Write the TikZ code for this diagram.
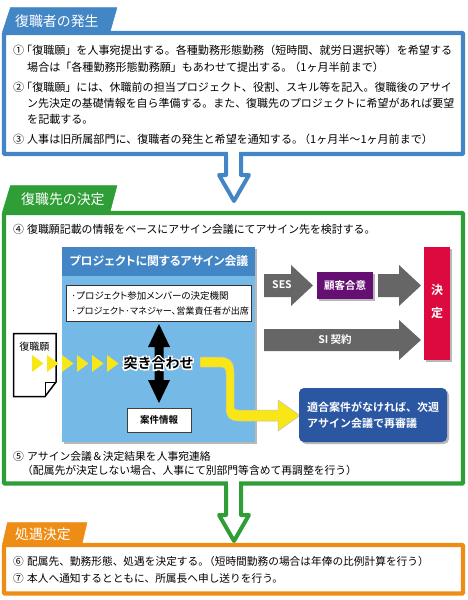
\documentclass[tikz,border=0pt]{standalone}
\usepackage{fontspec}
\setmainfont{Noto Sans CJK JP}
\newfontfamily\jpbold{Noto Sans CJK JP Bold}
\newfontfamily\jpboldp[RawFeature=+palt]{Noto Sans CJK JP Bold}
\newfontfamily\jpregp[RawFeature=+palt]{Noto Sans CJK JP}
\newfontfamily\jphalo[FakeBold=20]{Noto Sans CJK JP Bold}
\newcommand{\numbox}[1]{\makebox[14pt][l]{#1}}
\usetikzlibrary{shadows}
\definecolor{cblue}{HTML}{4386C5}
\definecolor{cgreen}{HTML}{2F9E36}
\definecolor{corange}{HTML}{EE8D16}
\definecolor{csky}{HTML}{75B9E6}
\definecolor{cgray}{HTML}{666666}
\definecolor{cpurple}{HTML}{660F73}
\definecolor{cred}{HTML}{DC0A3F}
\definecolor{cnavy}{HTML}{2A56A2}
\definecolor{cyellow}{HTML}{F9E616}
\tikzset{
 x=1pt,y=-1pt,
 body/.style={anchor=base west,inner sep=0pt,font=\fontsize{11.05}{13}\selectfont,text=black},
 bodytight/.style={anchor=base west,inner sep=0pt,font=\fontsize{10.8}{13}\selectfont,text=black},
 panel/.style={draw=#1,line width=4.2pt,fill=white,rounded corners=0.8pt},
 tabshape/.style={fill=#1,draw=#1,line width=0.5pt,line join=round},
 tabtext/.style={anchor=base west,inner sep=0pt,text=white,font=\fontsize{13.9}{16}\selectfont},
 flow/.style={draw=#1,line width=4pt,fill=white,line join=round},
 softshadow/.style={drop shadow={shadow xshift=2pt,shadow yshift=-2pt,fill=black,opacity=.28}},
 greyarrow/.style={fill=cgray},
 onarrow/.style={inner sep=0pt,text=white,font=\jpbold\fontsize{10.5}{12}\selectfont},
 tri/.style={fill=cyellow},
 boxline/.style={anchor=base west,inner sep=0pt,font=\jpregp\fontsize{#1}{11}\selectfont,text=black},
}
\begin{document}
\begin{tikzpicture}
\useasboundingbox (0,0) rectangle (467,600);
% --- section 1
\fill[tabshape=cblue] (2.5,32) -- (10.5,7.5) -- (117,7.5) -- (110,32) -- cycle;
\node[tabtext] (t1) at (15,26) {復職者の発生};
\draw[panel=cblue] (4,33) rectangle (463,154);
\node[body] (pa) at (13,54) {\makebox[8pt][l]{①}「復職願」を人事宛提出する。各種勤務形態勤務（短時間、就労日選択等）を希望する};
\node[body] (pb) at (27,71) {場合は「各種勤務形態勤務願」もあわせて提出する。\kern-3pt（1ヶ月半前まで）};
\node[body] (pc) at (13,91) {\makebox[8pt][l]{②}「復職願」には、休職前の担当プロジェクト、役割、スキル等を記入。復職後のアサイ};
\node[bodytight,font=\fontsize{10.95}{13}\selectfont] (pd) at (27,107) {ン先決定の基礎情報を自ら準備する。また、復職先のプロジェクトに希望があれば要望};
\node[body] (pe) at (27,123) {を記載する。};
\node[body] (pf) at (13,143) {\numbox{③}人事は旧所属部門に、復職者の発生と希望を通知する。\kern-4pt（1ヶ月半〜1ヶ月前まで）};
% --- section 2
\fill[tabshape=cgreen] (2.5,212) -- (10.5,185.5) -- (117,185.5) -- (110,212) -- cycle;
\node[tabtext] (t2) at (21,204) {復職先の決定};
\draw[panel=cgreen] (4,213) rectangle (463,483.5);
\node[bodytight,font=\fontsize{10.9}{13}\selectfont] (p4) at (13,233) {\numbox{④}復職願記載の情報をベースにアサイン会議にてアサイン先を検討する。};
\node[bodytight] (p5a) at (13,460) {\numbox{⑤}アサイン会議＆決定結果を人事宛連絡};
\node[bodytight] (p5b) at (22,474) {（配属先が決定しない場合、人事にて別部門等含めて再調整を行う）};
% flow arrow 1 (over section 1 bottom)
\draw[flow=cblue] (226,152) -- (226,175) -- (219,175) -- (234,201) -- (249,175) -- (241,175) -- (241,152);
\fill[white] (228,150) rectangle (239,155);
% meeting panel
\fill[csky,softshadow] (62,247) rectangle (255,442);
\fill[cblue] (62,247) rectangle (255,276);
\node[inner sep=0pt,text=white,font=\jpboldp\fontsize{11.9}{14}\selectfont] (mt) at (159,261) {プロジェクトに関するアサイン会議};
\node[draw=black!80,line width=.8pt,fill=white,minimum width=185pt,minimum height=36pt,inner sep=0pt,anchor=north west] (mb) at (66,285) {};
\node[boxline=9.5] (mb1) at (71,299.5) {·プロジェクト参加メンバーの決定機関};
\node[boxline=9.1] (mb2) at (71,314) {·プロジェクト·マネジャー、営業責任者が出席};
\node[draw=black!75,line width=.8pt,fill=white,minimum width=64pt,minimum height=24pt,inner sep=0pt,font=\jpbold\fontsize{9.5}{11}\selectfont] (case) at (159,420) {案件情報};
% double arrow
\fill[black] (159,324) -- (170,347) -- (163.5,347) -- (163.5,380) -- (170,380) -- (159,403) -- (148,380) -- (154.5,380) -- (154.5,347) -- (148,347) -- cycle;
% document
\draw[black,line width=1.5pt,fill=white,line join=miter] (13.5,333.5) -- (56,333.5) -- (56,382) -- (45,396.5) -- (13.5,396.5) -- cycle;
\draw[black,line width=1pt,line join=miter] (56,382) -- (45,382) -- (45,396.5);
\node[inner sep=0pt,font=\fontsize{10}{12}\selectfont] (doc) at (34.5,346.5) {復職願};
% yellow triangles
\foreach \a in {32,47,62,77,92,107}
 {\fill[tri] (\a,355) -- (\a+11.5,363.5) -- (\a,372) -- cycle;}
% yellow bent arrow
\filldraw[fill=cyellow,draw=black!25,line width=.5pt,line join=miter] (200,357) -- (220,357) .. controls (229,357) and (234,362) .. (234,371) -- (234,405) .. controls (234,409) and (235,410) .. (239,410) -- (278,410) -- (278,400) -- (300,415.5) -- (278,431) -- (278,421) -- (238,421) .. controls (230,421) and (226,417) .. (226,409) -- (226,373) .. controls (226,369) and (224,367) .. (220,367) -- (200,367) -- cycle;
% clash label
\node[inner sep=0pt,font=\jpbold\fontsize{14}{16}\selectfont] (clash) at (158.5,363) {\rlap{\color{white}\jphalo 突き合わせ}突き合わせ};
% next-week box
\node[fill=cnavy,rounded corners=5pt,minimum width=148pt,minimum height=54pt,inner sep=0pt,softshadow] (nx) at (373,415) {};
\node[anchor=base west,inner sep=0pt,text=white,font=\jpbold\fontsize{11}{13}\selectfont] (nx1) at (307,411) {適合案件がなければ、次週};
\node[anchor=base west,inner sep=0pt,text=white,font=\jpbold\fontsize{11}{13}\selectfont] (nx2) at (307,427) {アサイン会議で再審議};
% grey arrows
\fill[greyarrow] (264,274) -- (291,274) -- (291,265) -- (313,285.5) -- (291,306) -- (291,297) -- (264,297) -- cycle;
\node[onarrow] (ses) at (282,285) {SES};
\node[fill=cpurple,minimum width=56pt,minimum height=27pt,inner sep=0pt,text=white,font=\jpbold\fontsize{10.5}{12}\selectfont,softshadow] (agree) at (345,285.5) {顧客合意};
\fill[greyarrow] (378,274) -- (399,274) -- (399,265) -- (421,285.5) -- (399,306) -- (399,297) -- (378,297) -- cycle;
\fill[greyarrow] (264,329) -- (399,329) -- (399,320) -- (421,340) -- (399,360) -- (399,351) -- (264,351) -- cycle;
\node[onarrow] (si) at (335,339.5) {SI 契約};
\node[fill=cred,minimum width=26pt,minimum height=113pt,inner sep=0pt,softshadow] (dec) at (437,303.5) {};
\node[inner sep=0pt,text=white,font=\jpbold\fontsize{12}{14}\selectfont] (dec1) at (437,290) {決};
\node[inner sep=0pt,text=white,font=\jpbold\fontsize{12}{14}\selectfont] (dec2) at (437,313) {定};
% --- section 3
\fill[tabshape=corange] (2.5,544) -- (7.5,522.5) -- (87,522.5) -- (82,544) -- cycle;
\node[tabtext] (t3) at (15,539.5) {処遇決定};
\draw[panel=corange] (4,545) rectangle (463,593.5);
\node[bodytight,font=\fontsize{10.7}{13}\selectfont] (p6) at (13,565) {\numbox{⑥}配属先、勤務形態、処遇を決定する。\kern-5pt（短時間勤務の場合は年俸の比例計算を行う）};
\node[bodytight,font=\fontsize{10.7}{13}\selectfont] (p7) at (13,582) {\numbox{⑦}本人へ通知するとともに、所属長へ申し送りを行う。};
% flow arrow 2
\draw[flow=cgreen] (226,482) -- (226,515) -- (219,515) -- (234,541) -- (249,515) -- (241,515) -- (241,482);
\fill[white] (228,480) rectangle (239,486);
\end{tikzpicture}
\end{document}
